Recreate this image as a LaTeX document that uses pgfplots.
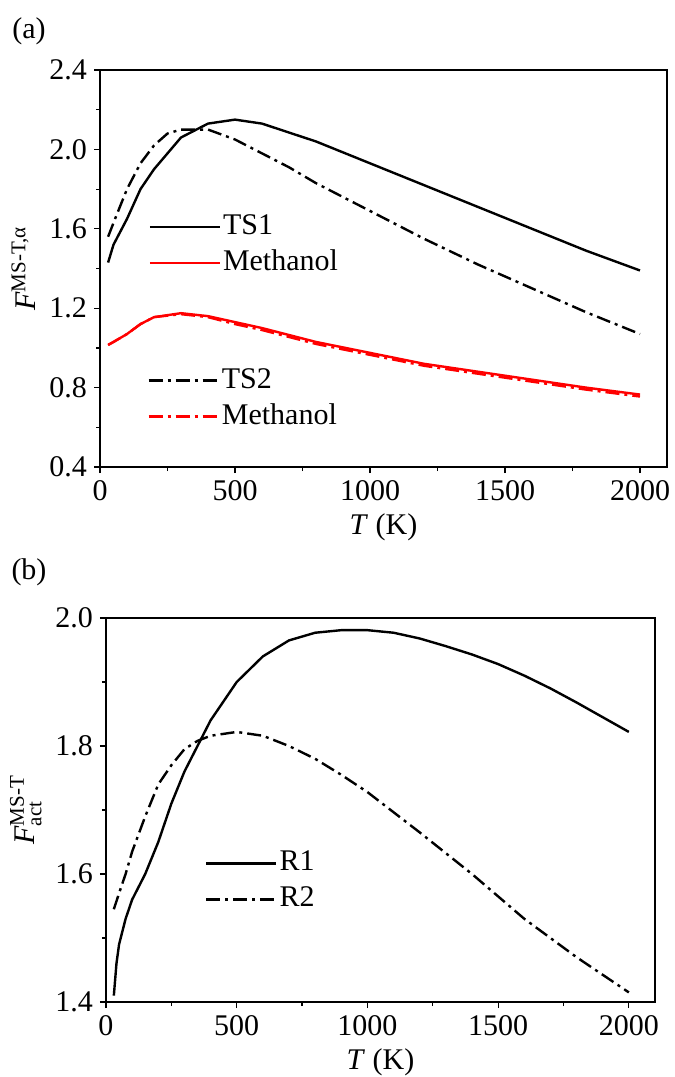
\documentclass[border=0pt]{standalone}
\usepackage{fontspec}
\setmainfont{Liberation Serif}
\usepackage{amsmath}
\usepackage{pgfplots}
\pgfplotsset{compat=1.18}

\definecolor{myred}{RGB}{255,0,0}

\pgfplotsset{
  panel/.style={
    scale only axis,
    xmin=0, xmax=2100,
    xtick={0,500,1000,1500,2000},
    minor x tick num=1, minor y tick num=1,
    tick pos=left, tick align=outside,
    major tick length=3pt, minor tick length=2pt,
    axis line style={line width=0.7pt},
    every tick/.style={black, line width=0.6pt},
    font=\fontsize{15}{18}\selectfont,
    /pgf/number format/assume math mode=true,
    /pgf/number format/1000 sep={},
    yticklabel style={/pgf/number format/.cd, fixed, fixed zerofill, precision=1},
    xlabel={\textit{T} (K)},
    legend cell align=left,
    legend image code/.code={\draw[#1, line width=1.2pt] (0pt,0pt) -- (35pt,0pt);},
    legend style={draw=none, fill=none, inner sep=0pt, row sep=1.5pt,
      font=\fontsize{15}{18}\selectfont,
      nodes={inner sep=1pt, text height=11pt, text depth=3.5pt}},
  },
  solidline/.style={line width=1.2pt},
  dashdot/.style={line width=1.2pt, dash pattern=on 7pt off 2.5pt on 1.5pt off 2.5pt},
}

\begin{document}
\begin{tikzpicture}
\useasboundingbox (0,0) rectangle (337.5pt,-538.5pt);

\node[font=\fontsize{15}{18}\selectfont] at (14.5pt,-15.5pt) {(a)};
\node[font=\fontsize{15}{18}\selectfont] at (14.5pt,-286pt) {(b)};

% panel (a), solid curves
\begin{axis}[panel,
  at={(50pt,-35pt)}, anchor=north west,
  width=283.5pt, height=198.5pt,
  ymin=0.4, ymax=2.4,
  ytick={0.4,0.8,1.2,1.6,2.0,2.4},
  ylabel={\textit{F}$^{\text{MS-T,α}}$},
  legend style={at={(0.085,0.559)}, anchor=west},
]
\addplot[solidline, black] coordinates {
 (30,1.43) (50,1.52) (100,1.65) (150,1.80) (200,1.90) (300,2.06)
 (400,2.13) (500,2.15) (600,2.13) (800,2.04) (1000,1.93) (1200,1.82)
 (1400,1.71) (1600,1.60) (1800,1.49) (2000,1.39)};
\addplot[solidline, myred] coordinates {
 (30,1.015) (50,1.03) (100,1.07) (150,1.12) (200,1.155) (300,1.175)
 (400,1.16) (500,1.13) (600,1.10) (800,1.03) (1000,0.975) (1200,0.92)
 (1400,0.88) (1600,0.84) (1800,0.80) (2000,0.765)};
\legend{TS1, Methanol}
\end{axis}

% panel (a), dash-dot curves with their own legend
\begin{axis}[panel,
  at={(50pt,-35pt)}, anchor=north west,
  width=283.5pt, height=198.5pt,
  ymin=0.4, ymax=2.4,
  hide axis,
  legend style={at={(0.083,0.1725)}, anchor=west},
]
\addplot[dashdot, black] coordinates {
 (30,1.56) (50,1.63) (100,1.80) (150,1.93) (200,2.02) (250,2.08)
 (300,2.10) (400,2.10) (500,2.05) (600,1.98) (700,1.91) (800,1.83)
 (1000,1.69) (1200,1.55) (1400,1.42) (1600,1.30) (1800,1.18) (2000,1.07)};
\addplot[dashdot, myred] coordinates {
 (30,1.015) (50,1.03) (100,1.07) (150,1.12) (200,1.155) (300,1.17)
 (400,1.155) (500,1.12) (600,1.09) (800,1.02) (1000,0.965) (1200,0.91)
 (1400,0.87) (1600,0.83) (1800,0.79) (2000,0.755)};
\legend{TS2, Methanol}
\end{axis}

% panel (b)
\begin{axis}[panel,
  at={(53pt,-309pt)}, anchor=north west,
  width=274.5pt, height=192pt,
  ymin=1.4, ymax=2.0,
  ytick={1.4,1.6,1.8,2.0},
  ylabel={\textit{F}$^{\text{MS-T}}_{\text{act}}$},
  legend style={at={(0.18,0.314)}, anchor=west},
]
\addplot[solidline, black] coordinates {
 (30,1.41) (40,1.46) (50,1.49) (75,1.53) (100,1.56) (150,1.60)
 (200,1.65) (250,1.71) (300,1.76) (350,1.80) (400,1.84) (500,1.90)
 (600,1.94) (700,1.965) (800,1.977) (900,1.981) (1000,1.981) (1100,1.977)
 (1200,1.968) (1300,1.956) (1400,1.943) (1500,1.928) (1600,1.91)
 (1700,1.89) (1800,1.868) (1900,1.845) (2000,1.822)};
\addplot[dashdot, black] coordinates {
 (30,1.545) (50,1.57) (75,1.60) (100,1.635) (150,1.69) (200,1.74)
 (250,1.77) (300,1.795) (350,1.808) (400,1.816) (500,1.822) (600,1.816)
 (700,1.80) (800,1.78) (900,1.755) (1000,1.728) (1200,1.665)
 (1400,1.60) (1600,1.53) (1800,1.47) (2000,1.415)};
\legend{R1, R2}
\end{axis}
\end{tikzpicture}
\end{document}
